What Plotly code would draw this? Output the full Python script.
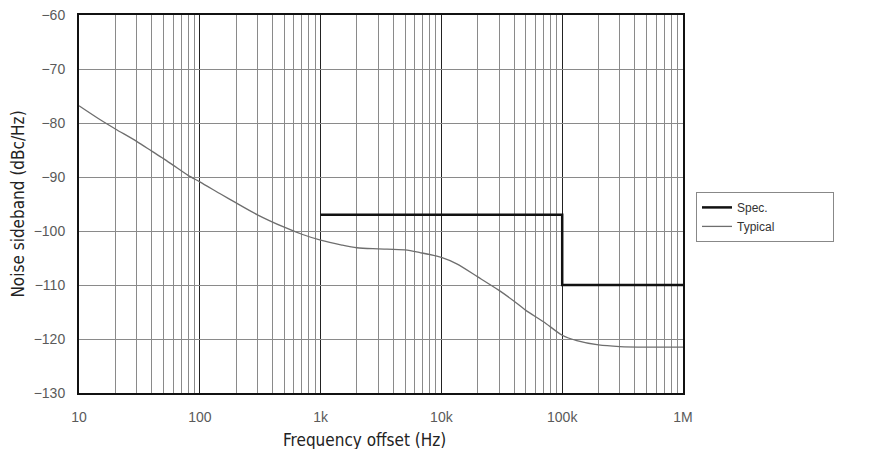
import plotly.graph_objects as go

# Data
typ_freq = [10, 15, 20, 30, 40, 50, 60, 80, 100, 150, 200, 300, 500, 700, 1000,
            1500, 2000, 3000, 5000, 6650, 10000, 13400, 20000, 30000, 40000, 50000,
            70000, 100000, 132000, 200000, 300000, 500000, 1000000]
typ_vals = [-76.8, -79.4, -81.1, -83.4, -85.2, -86.6, -87.8, -89.7, -90.9, -93.2,
            -94.8, -97.0, -99.3, -100.6, -101.7, -102.6, -103.1, -103.3, -103.5,
            -104.0, -104.9, -106.1, -108.5, -111.0, -113.0, -114.7, -116.8, -119.3,
            -120.3, -121.1, -121.4, -121.5, -121.5]
spec_freq = [1000, 100000, 100000, 1000000]
spec_vals = [-97, -97, -110, -110]

x_tickvals = [10, 100, 1000, 10000, 100000, 1000000]
x_ticktext = ["10", "100", "1k", "10k", "100k", "1M"]
y_tickvals = [-60, -70, -80, -90, -100, -110, -120, -130]

x_title = "Frequency offset (Hz)"
y_title = "Noise sideband (dBc/Hz)"

title_font = dict(family="Liberation Sans Narrow, DejaVu Sans Condensed, Arial Narrow, sans-serif",
                  size=17, color="#222222")
tick_font = dict(family="Liberation Sans, Arial, sans-serif", size=14, color="#5a5a5a")

pad = "\u00a0" * 18  # widens the legend box toward the right edge

fig = go.Figure()
fig.add_trace(go.Scatter(x=spec_freq, y=spec_vals, mode="lines", name="Spec." + pad,
                         line=dict(color="#111111", width=2.5)))
fig.add_trace(go.Scatter(x=typ_freq, y=typ_vals, mode="lines", name="Typical",
                         line=dict(color="#6e6e6e", width=1.3, shape="spline", smoothing=0.8)))

fig.update_layout(
    width=862, height=441,
    margin=dict(l=71, r=187, t=7, b=56, autoexpand=False),
    paper_bgcolor="white", plot_bgcolor="white",
    showlegend=True,
    legend=dict(x=1.0215, y=0.532, xanchor="left", yanchor="top",
                bordercolor="#888888", borderwidth=1,
                font=dict(family="Liberation Sans, Arial, sans-serif", size=12, color="#333333"),
                itemwidth=30, tracegroupgap=0),
    annotations=[dict(text=x_title, xref="paper", yref="paper", x=0.4735, y=-0.124,
                      xanchor="center", yanchor="middle", showarrow=False, font=title_font)],
)
fig.update_xaxes(
    type="log", range=[1, 6], automargin=False,
    tickvals=x_tickvals, ticktext=x_ticktext, tickfont=tick_font,
    ticklabelstandoff=10, ticklabeloverflow="allow",
    showgrid=True, gridcolor="#222222", gridwidth=1,
    minor=dict(dtick="D1", showgrid=True, gridcolor="#8a8a8a", gridwidth=1),
    showline=True, linecolor="#111111", linewidth=2, mirror=True,
    ticks="", ticklen=0,
)
fig.update_yaxes(
    range=[-130, -60], tickvals=y_tickvals, tickfont=tick_font, automargin=False,
    ticklabelstandoff=9, ticklabeloverflow="allow",
    showgrid=True, gridcolor="#8a8a8a", gridwidth=1,
    showline=True, linecolor="#111111", linewidth=2, mirror=True,
    zeroline=False, ticks="",
    title=dict(text=y_title, font=title_font, standoff=10),
)

fig.write_html("out.html")
